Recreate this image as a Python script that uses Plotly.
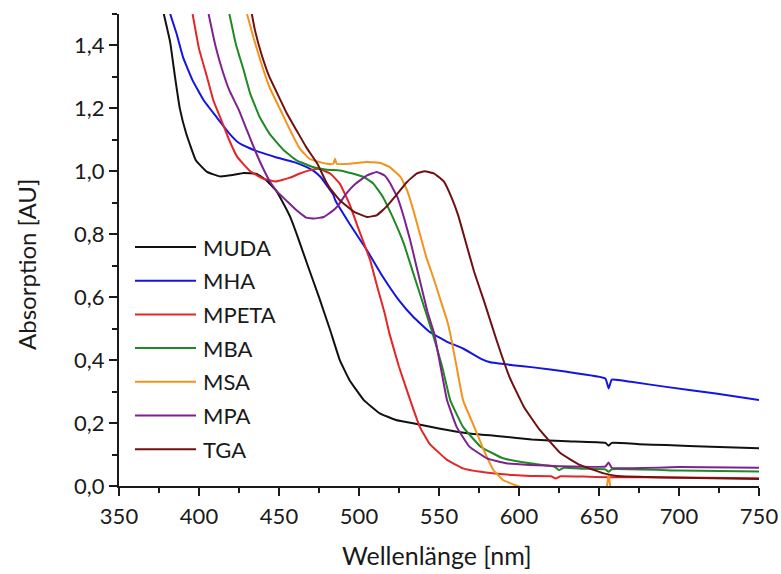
import plotly.graph_objects as go

# UV-Vis absorption spectra (normalised) of CdTe nanocrystals with different ligands
wl_muda = [378, 382, 385, 388, 392, 398, 405, 413, 421, 428, 436, 442, 448, 452, 457, 462, 468, 475,
           482, 488, 494, 503, 513, 523, 536, 550, 569, 586, 608, 630, 654, 656, 658, 675, 692, 720, 750]
ab_muda = [1.50, 1.41, 1.30, 1.20, 1.12, 1.035, 0.998, 0.984, 0.988, 0.995, 0.992, 0.972, 0.94, 0.905,
           0.855, 0.787, 0.70, 0.60, 0.495, 0.40, 0.337, 0.273, 0.231, 0.21, 0.197, 0.183, 0.167, 0.159,
           0.148, 0.142, 0.137, 0.128, 0.137, 0.133, 0.130, 0.125, 0.120]

wl_mha = [382, 386, 390, 396, 403, 411, 419, 425, 431, 438, 448, 459, 467, 472, 476, 482, 484, 485, 486,
          494, 505, 515, 525, 534, 544, 555, 565, 576, 582, 596, 609, 630, 654, 656, 658, 670, 692, 723, 750]
ab_mha = [1.50, 1.437, 1.363, 1.289, 1.225, 1.172, 1.12, 1.09, 1.075, 1.061, 1.045, 1.03, 1.014, 1.0,
          0.982, 0.94, 0.925, 0.91, 0.90, 0.834, 0.749, 0.664, 0.59, 0.537, 0.49, 0.458, 0.437, 0.405,
          0.393, 0.384, 0.377, 0.363, 0.342, 0.31, 0.338, 0.331, 0.315, 0.294, 0.273]

wl_mpeta = [396, 400, 405, 409, 414, 419, 424, 432, 440, 448, 457, 463, 469, 475, 482, 488, 494, 500,
            507, 512, 516, 519, 525, 532, 538, 544, 555, 565, 576, 596, 607, 620, 623, 626, 640, 656,
            700, 750]
ab_mpeta = [1.50, 1.39, 1.30, 1.225, 1.162, 1.098, 1.045, 1.0, 0.977, 0.968, 0.98, 0.993, 1.003, 1.008,
            0.993, 0.961, 0.897, 0.813, 0.717, 0.622, 0.55, 0.485, 0.379, 0.273, 0.188, 0.135, 0.083,
            0.056, 0.045, 0.035, 0.032, 0.031, 0.024, 0.031, 0.030, 0.028, 0.027, 0.025]

wl_mba = [419, 423, 428, 432, 438, 444, 453, 461, 471, 480, 488, 496, 503, 509, 515, 521, 528, 534, 540,
          546, 552, 557, 565, 576, 590, 607, 622, 625, 628, 640, 654, 656, 658, 700, 750]
ab_mba = [1.50, 1.405, 1.32, 1.247, 1.172, 1.12, 1.067, 1.035, 1.014, 1.005, 1.003, 0.993, 0.982,
          0.961, 0.918, 0.855, 0.77, 0.675, 0.58, 0.485, 0.379, 0.273, 0.188, 0.125, 0.088, 0.072,
          0.062, 0.050, 0.058, 0.055, 0.053, 0.045, 0.053, 0.049, 0.046]

wl_msa = [430, 434, 439, 444, 451, 457, 463, 469, 475, 480, 484, 485, 486, 494, 505, 513, 519, 526,
          530, 534, 538, 542, 547, 551, 555, 557, 561, 565, 572, 578, 584, 590, 599, 610, 654, 656,
          658, 700, 750]
ab_msa = [1.50, 1.426, 1.342, 1.268, 1.194, 1.13, 1.072, 1.04, 1.03, 1.024, 1.024, 1.04, 1.024, 1.024,
          1.03, 1.027, 1.014, 0.982, 0.94, 0.876, 0.802, 0.728, 0.654, 0.59, 0.527, 0.485, 0.379,
          0.273, 0.188, 0.114, 0.051, 0.019, 0.0, -0.02, -0.02, 0.035, -0.02, -0.02, -0.02]

wl_mpa = [406, 410, 414, 419, 425, 430, 435, 440, 445, 449, 455, 461, 467, 472, 478, 484, 487, 492,
          498, 505, 511, 516, 519, 524, 528, 532, 536, 540, 543, 547, 551, 555, 561, 569, 580, 592,
          607, 625, 654, 656, 658, 700, 750]
ab_mpa = [1.50, 1.405, 1.331, 1.257, 1.194, 1.13, 1.067, 1.01, 0.962, 0.935, 0.905, 0.876, 0.853, 0.85,
          0.855, 0.876, 0.892, 0.929, 0.961, 0.987, 0.998, 0.987, 0.966, 0.918, 0.855, 0.781, 0.696,
          0.612, 0.55, 0.485, 0.379, 0.273, 0.188, 0.125, 0.088, 0.072, 0.067, 0.063, 0.062, 0.075,
          0.058, 0.060, 0.058]

wl_tga = [433, 435, 439, 444, 450, 455, 461, 467, 474, 479, 482, 488, 497, 505, 511, 517, 524, 530,
          536, 541, 547, 553, 558, 562, 567, 572, 578, 586, 594, 603, 613, 626, 638, 653, 661, 692, 750]
ab_tga = [1.50, 1.448, 1.373, 1.30, 1.236, 1.183, 1.13, 1.077, 1.024, 0.971, 0.945, 0.908, 0.871, 0.855,
          0.86, 0.887, 0.929, 0.966, 0.993, 1.0, 0.993, 0.968, 0.915, 0.86, 0.77, 0.68, 0.59, 0.463,
          0.347, 0.252, 0.178, 0.104, 0.067, 0.04, 0.032, 0.027, 0.022]

series = [
    ("MUDA", wl_muda, ab_muda, "#111111"),
    ("MHA", wl_mha, ab_mha, "#1414e6"),
    ("MPETA", wl_mpeta, ab_mpeta, "#e42626"),
    ("MBA", wl_mba, ab_mba, "#1f8a24"),
    ("MSA", wl_msa, ab_msa, "#f5921e"),
    ("MPA", wl_mpa, ab_mpa, "#7f218f"),
    ("TGA", wl_tga, ab_tga, "#701010"),
]

FONT = "Lato, 'Open Sans', sans-serif"
INK = "#1a1a1a"
W, H = 781, 574
M = dict(l=119, r=22, t=14, b=88)
plot_w = W - M["l"] - M["r"]
plot_h = H - M["t"] - M["b"]


def fx(px):
    """Pixel column -> fraction of the plot width."""
    return (px - M["l"]) / plot_w


def fy(py):
    """Pixel row -> fraction of the plot height (from the bottom)."""
    return (H - M["b"] - py) / plot_h


fig = go.Figure()
for name, x, y, color in series:
    fig.add_trace(go.Scatter(
        x=x, y=y, mode="lines", name=name, showlegend=False,
        line=dict(color=color, width=2, shape="spline", smoothing=0.3),
    ))

# Hand-built legend: long sample lines with labels, stacked in the lower-left of the plot
leg_x0, leg_x1, leg_text_x = 135, 196, 201
leg_top, leg_step = 247, 33.7
for i, (name, _, _, color) in enumerate(series):
    yf = fy(leg_top + i * leg_step)
    fig.add_shape(
        type="line", xref="x domain", yref="y domain",
        x0=fx(leg_x0), x1=fx(leg_x1), y0=yf, y1=yf,
        line=dict(color=color, width=2),
    )
    fig.add_annotation(
        xref="x domain", yref="y domain", x=fx(leg_text_x), y=yf,
        text=name, showarrow=False, xanchor="left", yanchor="middle",
        font=dict(family=FONT, size=22, color=INK),
    )

# Axis titles
fig.add_annotation(
    xref="paper", yref="paper", x=fx(437), y=fy(555),
    text="Wellenlänge [nm]", showarrow=False, xanchor="center", yanchor="middle",
    font=dict(family=FONT, size=25, color=INK),
)
fig.add_annotation(
    xref="paper", yref="paper", x=fx(26), y=fy(265),
    text="Absorption [AU]", showarrow=False, xanchor="center", yanchor="middle",
    textangle=-90, font=dict(family=FONT, size=24, color=INK),
)

axis_common = dict(
    showline=True, linecolor=INK, linewidth=2,
    ticks="outside", ticklen=8, tickwidth=2, tickcolor=INK,
    showgrid=False, zeroline=False, mirror=False, automargin=False,
    tickfont=dict(family=FONT, size=22, color=INK),
)

fig.update_layout(
    width=W, height=H,
    margin=M,
    paper_bgcolor="white", plot_bgcolor="white",
    separators=",.",
    font=dict(family=FONT, color=INK),
    showlegend=False,
    xaxis=dict(
        range=[350, 750], tickvals=[350, 400, 450, 500, 550, 600, 650, 700, 750],
        minor=dict(dtick=25, ticks="outside", ticklen=5, tickwidth=2, tickcolor=INK),
        ticklabelstandoff=2,
        **axis_common,
    ),
    yaxis=dict(
        range=[0, 1.5], tickvals=[0, 0.2, 0.4, 0.6, 0.8, 1.0, 1.2, 1.4], tickformat=".1f",
        minor=dict(tick0=0, dtick=0.1, ticks="outside", ticklen=5, tickwidth=2, tickcolor=INK),
        **axis_common,
    ),
)

fig.write_html("out.html")
